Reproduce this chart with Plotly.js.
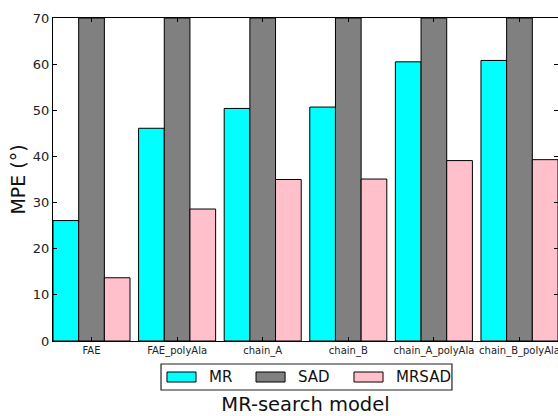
<!DOCTYPE html>
<html><head><meta charset="utf-8">
<script src="https://cdn.plot.ly/plotly-3.0.1.min.js"></script>
<style>body{margin:0;background:#fff}#c{width:558px;height:416px}</style>
</head><body><div id="c"></div>
<script>
const categories = ["FAE","FAE_polyAla","chain_A","chain_B","chain_A_polyAla","chain_B_polyAla"];
const seriesNames = ["MR","SAD","MRSAD"];
const mrValues = [26.1, 46.1, 50.4, 50.7, 60.5, 60.8];
const sadValues = [70, 70, 70, 70, 70, 70];
const mrsadValues = [13.7, 28.6, 35.0, 35.1, 39.1, 39.3];
const yTicks = [0,10,20,30,40,50,60,70];
const colors = ["#00ffff","#808080","#ffc0cb"];

const allValues = [mrValues, sadValues, mrsadValues];
const traces = allValues.map((v,i)=>({
  type:"bar", x:categories, y:v, name:seriesNames[i],
  marker:{color:colors[i], line:{color:"#000", width:1}},
  showlegend:false, hoverinfo:"skip"
}));

const F = "DejaVu Sans, sans-serif";
// legend drawn manually (matplotlib-style wide swatches)
const shapes = [{type:"rect", xref:"paper", yref:"paper", x0:0.2139, x1:0.790, y0:-0.1517, y1:-0.0712,
  line:{color:"#222", width:1.2}, fillcolor:"#fff", layer:"above"}];
const annotations = [];
const swX = [0.2257, 0.402, 0.596];
const txtX = [0.305, 0.481, 0.675];
seriesNames.forEach((n,i)=>{
  shapes.push({type:"rect", xref:"paper", yref:"paper", x0:swX[i], x1:swX[i]+0.0575, y0:-0.127, y1:-0.096,
    line:{color:"#000", width:1}, fillcolor:colors[i], layer:"above"});
  annotations.push({xref:"paper", yref:"paper", x:txtX[i], y:-0.1115, xanchor:"left", yanchor:"middle",
    text:n, showarrow:false, font:{family:F, size:15, color:"#111"}});
});

const layout = {
  width:558, height:416,
  margin:{l:53, r:0, t:18, b:75},
  paper_bgcolor:"#fff", plot_bgcolor:"#fff",
  barmode:"group", bargap:0.1, bargroupgap:0,
  xaxis:{type:"category", range:[-0.45, 5.45], showline:true, linecolor:"#000", linewidth:1, mirror:"ticks",
    ticks:"inside", ticklen:4, tickcolor:"#000", showgrid:false, zeroline:false,
    tickfont:{family:F, size:10, color:"#222"},
    title:{text:"MR-search model", font:{family:F, size:19.5, color:"#111"}, standoff:43},
    automargin:false},
  yaxis:{range:[0,70], tickvals:yTicks, showline:true, linecolor:"#000", linewidth:1, mirror:"ticks",
    ticks:"inside", ticklen:4, tickcolor:"#000", showgrid:false, zeroline:false,
    tickfont:{family:F, size:13, color:"#222"},
    title:{text:"MPE (°)", font:{family:F, size:19, color:"#111"}, standoff:2},
    automargin:false},
  shapes:shapes, annotations:annotations
};
Plotly.newPlot("c", traces, layout, {displayModeBar:false, staticPlot:true});
</script></body></html>
